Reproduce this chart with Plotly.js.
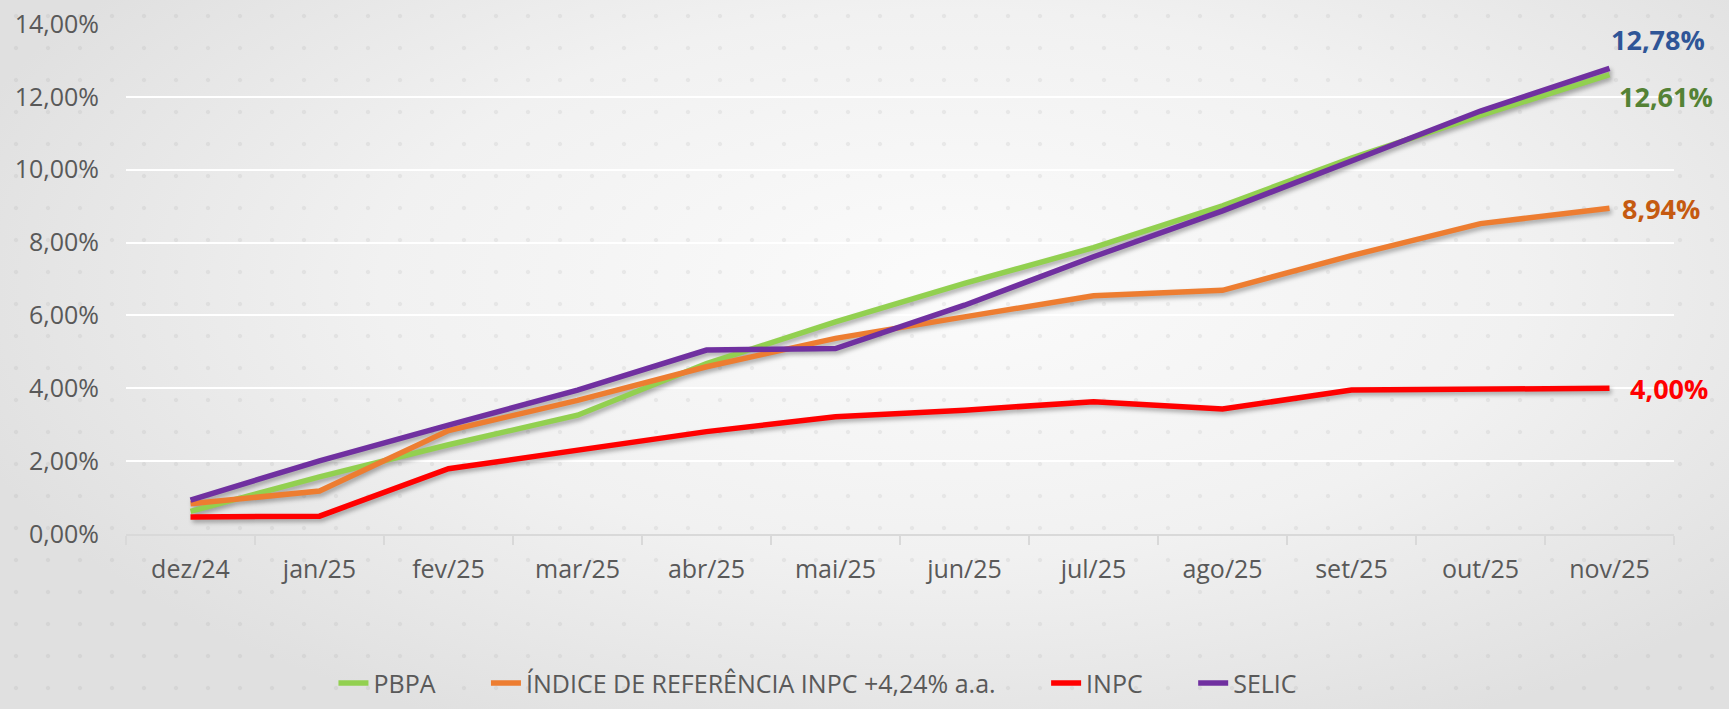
<!DOCTYPE html>
<html>
<head>
<meta charset="utf-8">
<script src="https://cdn.plot.ly/plotly-3.0.1.min.js"></script>
<style>
    html, body { margin: 0; padding: 0; }
    body {
        width: 1729px;
        height: 709px;
        overflow: hidden;
        background:
            radial-gradient(circle, rgba(150,150,150,0.14) 1.6px, transparent 2.6px) 0 0 / 32px 32px,
            radial-gradient(ellipse 60% 70% at 55% 40%, #fbfbfb 0%, #f1f1f1 55%, #e0e0e0 100%);
    }
    #chart { width: 1729px; height: 709px; }
    .scatterlayer { filter: drop-shadow(2px 3px 2px rgba(0,0,0,0.3)); }
</style>
</head>
<body>
<div id="chart"></div>
<script>
// Data (values in %)
const months = ['dez/24', 'jan/25', 'fev/25', 'mar/25', 'abr/25', 'mai/25',
                'jun/25', 'jul/25', 'ago/25', 'set/25', 'out/25', 'nov/25'];

const pbpa   = [0.62, 1.57, 2.45, 3.26, 4.68, 5.82, 6.88, 7.86, 9.01, 10.32, 11.49, 12.61];
const indice = [0.83, 1.18, 2.84, 3.67, 4.59, 5.37, 5.96, 6.54, 6.69, 7.64, 8.52, 8.94];
const inpc   = [0.47, 0.49, 1.79, 2.30, 2.81, 3.22, 3.40, 3.63, 3.43, 3.95, 3.99, 4.00];
const selic  = [0.93, 2.01, 2.99, 3.95, 5.05, 5.09, 6.28, 7.61, 8.87, 10.24, 11.61, 12.78];

const seriesNames = ['PBPA', 'ÍNDICE DE REFERÊNCIA INPC +4,24% a.a.', 'INPC', 'SELIC'];
const lineColors  = ['#92D050', '#ED7D31', '#FF0000', '#7030A0'];
const labelColors = ['#548235', '#C55A11', '#FF0000', '#2F5597'];

function endLabel(values) {
    return values[values.length - 1].toFixed(2).replace('.', ',') + '%';
}

// a bit of room after each legend entry (Excel spaces them wider)
const legendPad = '\u00a0'.repeat(7);

const traces = [pbpa, indice, inpc, selic].map((vals, i) => ({
    x: months,
    y: vals,
    type: 'scatter',
    mode: 'lines',
    name: seriesNames[i] + (i < 3 ? legendPad : ''),
    line: { color: lineColors[i], width: 5.5 },
    hoverinfo: 'skip'
}));

// labels at the last point: [xshift, yshift] per series
const labelShift = [[7, -22], [10, 0], [18, 0], [-1, 29]];
const annotations = [pbpa, indice, inpc, selic].map((vals, i) => ({
    x: months[months.length - 1],
    y: vals[vals.length - 1],
    text: endLabel(vals),
    showarrow: false,
    xanchor: 'left',
    yanchor: 'middle',
    xshift: labelShift[i][0],
    yshift: labelShift[i][1],
    font: { family: 'Open Sans', size: 27, color: labelColors[i], weight: 'bold' }
}));

const layout = {
    width: 1729,
    height: 709,
    margin: { t: 24, l: 126, r: 55, b: 175 },
    paper_bgcolor: 'rgba(0,0,0,0)',
    plot_bgcolor: 'rgba(0,0,0,0)',
    separators: ',.',
    font: { family: 'Open Sans', size: 25, color: '#595959' },
    xaxis: {
        type: 'category',
        range: [-0.5, 11.5],
        automargin: false,
        showgrid: false,
        showline: true,
        linecolor: '#d9d9d9',
        linewidth: 2,
        ticks: 'outside',
        tickson: 'boundaries',
        ticklen: 9,
        tickwidth: 2,
        tickcolor: '#d9d9d9',
        ticklabelstandoff: 12,
        tickfont: { size: 25, color: '#595959' }
    },
    yaxis: {
        range: [0, 14],
        automargin: false,
        dtick: 2,
        tickformat: '.2f',
        ticksuffix: '%',
        showgrid: true,
        gridcolor: '#ffffff',
        gridwidth: 2,
        zeroline: false,
        showline: false,
        ticklabelstandoff: 26,
        tickfont: { size: 25, color: '#595959' }
    },
    showlegend: true,
    legend: {
        orientation: 'h',
        x: 0.447,
        xanchor: 'center',
        yref: 'container',
        y: 0.004,
        yanchor: 'bottom',
        bgcolor: 'rgba(0,0,0,0)',
        font: { size: 25, color: '#595959' }
    },
    annotations: annotations
};

Plotly.newPlot('chart', traces, layout, { displayModeBar: false, staticPlot: true });
</script>
</body>
</html>
